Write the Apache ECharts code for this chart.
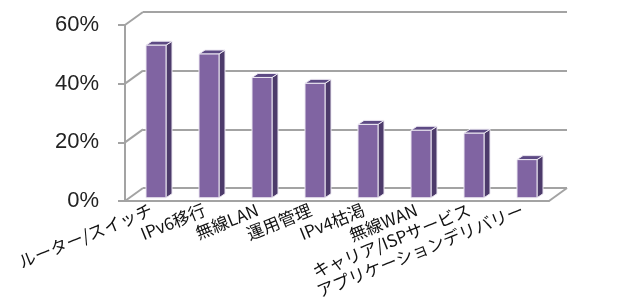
<!DOCTYPE html>
<html>
<head>
<meta charset="utf-8">
<script src="https://cdn.jsdelivr.net/npm/echarts@6/dist/echarts.min.js"></script>
<style>
  html, body { margin: 0; padding: 0; background: #fff; }
  #chart { width: 623px; height: 301px; }
</style>
</head>
<body>
<div id="chart"></div>
<script>
var categories = ['ルーター/スイッチ', 'IPv6移行', '無線LAN', '運用管理', 'IPv4枯渇', '無線WAN', 'キャリア/ISPサービス', 'アプリケーションデリバリー'];
var values = [52, 49, 41, 39, 25, 23, 22, 13];
var yTicks = [0, 20, 40, 60];

// depth of the 3d box (front plane -> back wall)
var DX = 18, DY = -13;
var lineColor = '#a3a3a3';

var chartDom = document.getElementById('chart');
var myChart = echarts.init(chartDom);
var option;

function renderBar(params, api) {
  var base = api.coord([api.value(0), 0]);
  var top = api.coord([api.value(0), api.value(1)]);
  var cx = base[0] + DX * 0.25;
  var by = base[1] + DY * 0.25;
  var ty = top[1] + DY * 0.25;
  var hw = 10, sx = 6, sy = -4;
  var edge = { stroke: '#ece8f2', lineWidth: 1 };
  return {
    type: 'group',
    children: [
      { type: 'polygon', shape: { points: [[cx + hw, ty], [cx + hw + sx, ty + sy], [cx + hw + sx, by + sy], [cx + hw, by]] },
        style: Object.assign({ fill: '#4d3b6b' }, edge) },
      { type: 'polygon', shape: { points: [[cx - hw, ty], [cx - hw + sx, ty + sy], [cx + hw + sx, ty + sy], [cx + hw, ty]] },
        style: Object.assign({ fill: '#5d4a84' }, edge) },
      { type: 'rect', shape: { x: cx - hw, y: ty, width: hw * 2, height: by - ty },
        style: Object.assign({ fill: '#8064a2' }, edge) }
    ]
  };
}

function renderFrame(params, api) {
  var cs = params.coordSys;
  var y = api.coord([0, api.value(0)])[1];
  var kids = [
    { type: 'line', shape: { x1: cs.x, y1: y, x2: cs.x + DX, y2: y + DY },
      style: { stroke: lineColor, lineWidth: 2 } }
  ];
  if (api.value(0) === 0) {
    kids.push({ type: 'line', shape: { x1: cs.x + cs.width, y1: y, x2: cs.x + cs.width + DX, y2: y + DY },
      style: { stroke: lineColor, lineWidth: 2 } });
  }
  return { type: 'group', children: kids };
}

option = {
  animation: false,
  grid: [
    { left: 143, top: 12, width: 424, height: 176 },
    { left: 125, top: 25, width: 424, height: 176 }
  ],
  xAxis: [
    { type: 'category', gridIndex: 0, data: categories, show: false },
    {
      type: 'category', gridIndex: 1, data: categories,
      axisLine: { lineStyle: { color: lineColor, width: 2 } },
      axisTick: { show: false },
      axisLabel: {
        interval: 0, rotate: 22, margin: 8, hideOverlap: false,
        color: '#111', fontSize: 17, fontFamily: 'Noto Sans CJK JP'
      }
    }
  ],
  yAxis: [
    {
      type: 'value', gridIndex: 0, min: 0, max: 60, interval: 20,
      axisLine: { show: false }, axisTick: { show: false }, axisLabel: { show: false },
      splitLine: { lineStyle: { color: lineColor, width: 2 } }
    },
    {
      type: 'value', gridIndex: 1, min: 0, max: 60, interval: 20,
      axisLine: { show: true, lineStyle: { color: lineColor, width: 2 } },
      axisTick: { show: true, length: 7, lineStyle: { color: lineColor, width: 2 } },
      splitLine: { show: false },
      axisLabel: {
        formatter: '{value}%', margin: 26, color: '#222',
        fontSize: 22, fontFamily: 'Liberation Sans', padding: [10, 0, 0, 0]
      }
    }
  ],
  series: [
    {
      type: 'custom', xAxisIndex: 1, yAxisIndex: 1, z: 1,
      renderItem: renderFrame,
      data: yTicks.map(function (t) { return [t]; })
    },
    {
      type: 'custom', xAxisIndex: 1, yAxisIndex: 1, z: 3,
      renderItem: renderBar,
      data: values.map(function (v, i) { return [i, v]; })
    }
  ]
};

option && myChart.setOption(option);
</script>
</body>
</html>
